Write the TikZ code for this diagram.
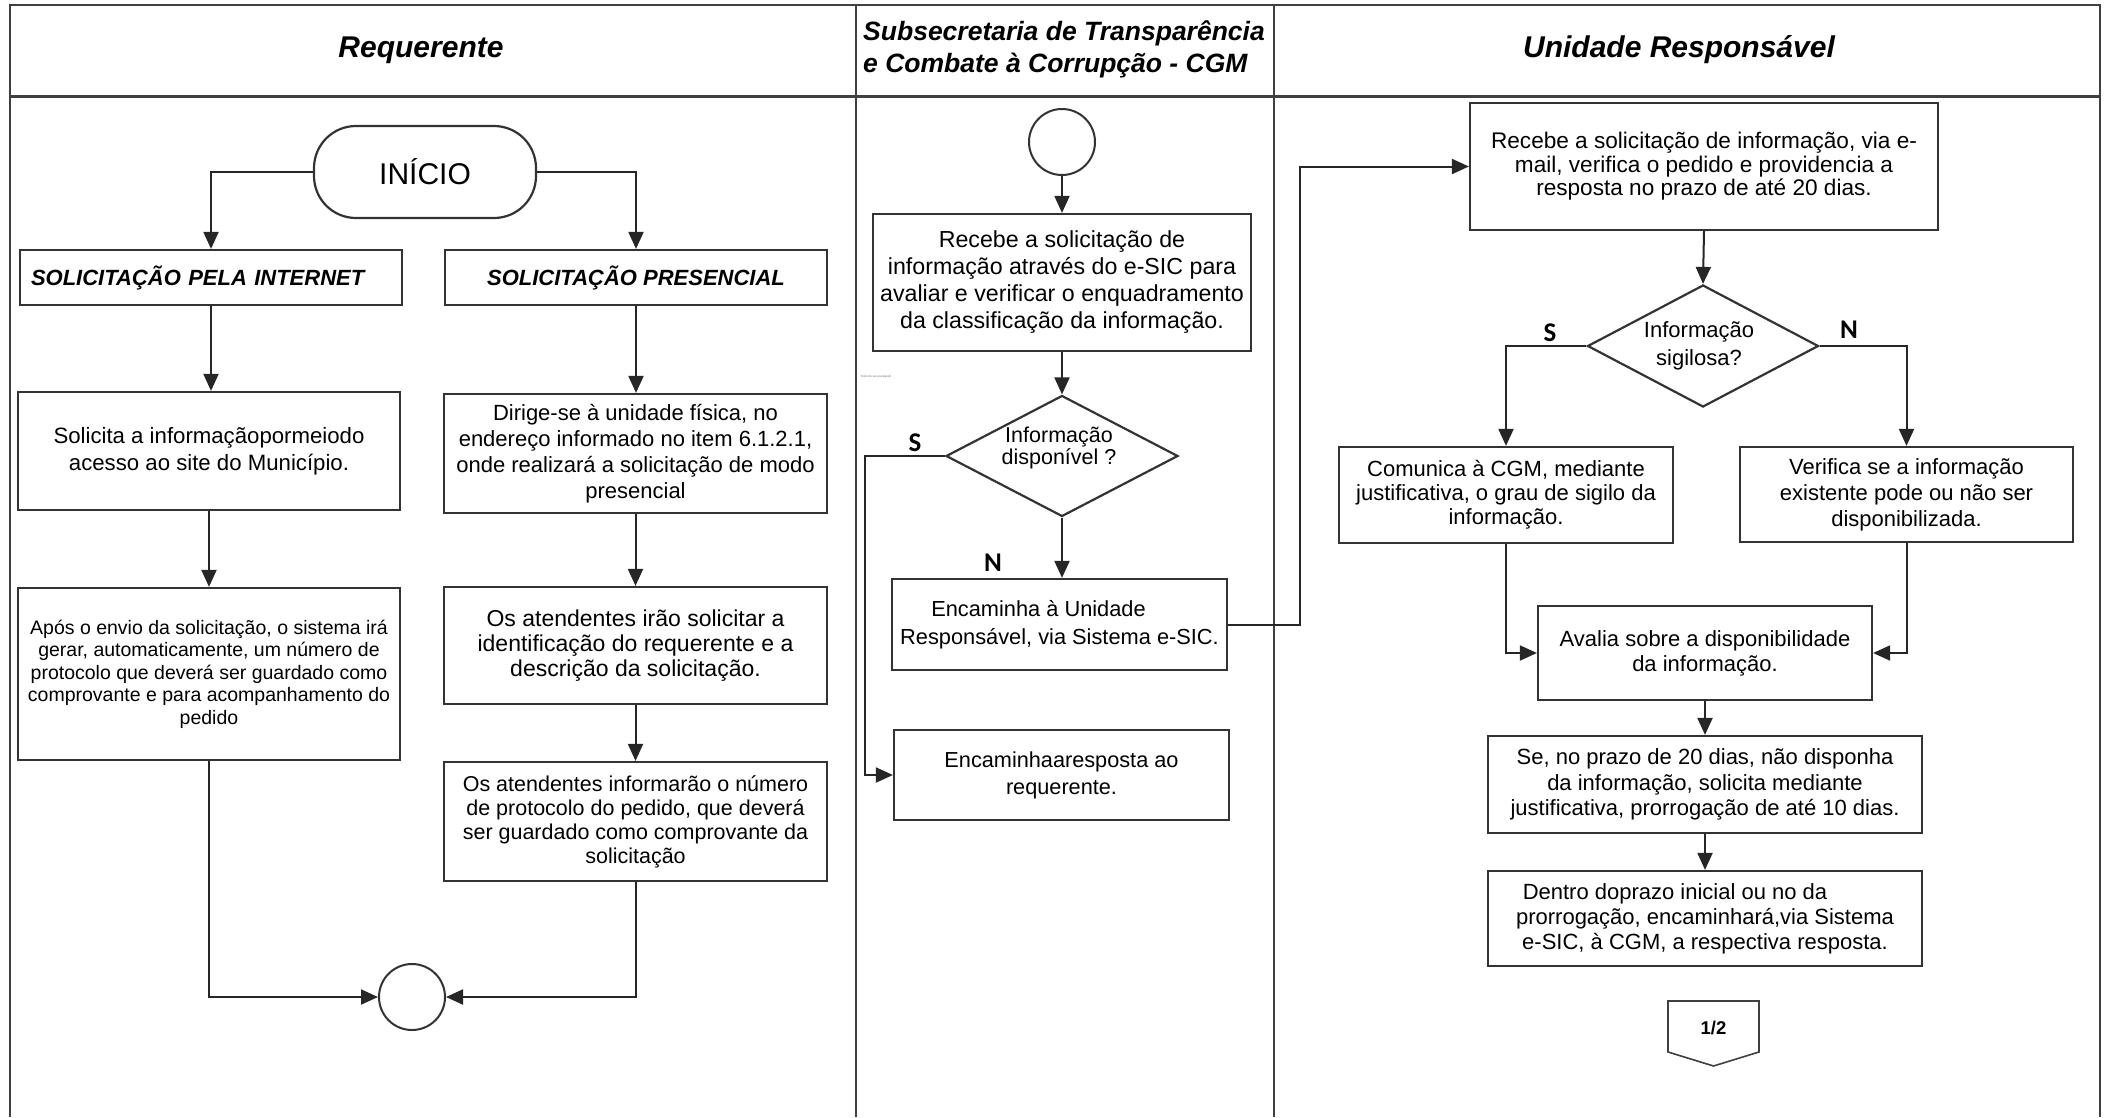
\documentclass[tikz,border=0pt]{standalone}
\usepackage{fontspec}
\setmainfont{Liberation Sans}
\newfontfamily\calibrifont{Carlito}
\usetikzlibrary{arrows.meta,shapes.geometric}
\newcommand\myfs[2]{\fontsize{#1}{#2}\selectfont}
\begin{document}
\begin{tikzpicture}[x=1pt,y=-1pt,
  box/.style={draw=black!80, line width=2.2pt, rectangle, inner sep=0pt, align=center, fill=white},
  dia/.style={draw=black!80, line width=2.2pt, diamond, inner sep=0pt, fill=white},
  circ/.style={draw=black!80, line width=2pt, circle, inner sep=0pt, minimum size=66pt},
  arr/.style={draw=black!85, line width=2pt, -{Triangle[width=15pt,length=17pt]}},
  ln/.style={draw=black!85, line width=2pt},
  frame/.style={draw=black!75, line width=2pt},
  lbl/.style={font=\calibrifont\bfseries\myfs{27}{27}, inner sep=0pt},
  hdr/.style={font=\bfseries\itshape\myfs{30}{32}, inner sep=0pt}]
\useasboundingbox (0,0) rectangle (2105,1117);

% frame and lanes
\draw[frame] (10,1117) -- (10,5) -- (2100,5) -- (2100,1117);
\draw[frame, line width=3pt] (10,96) -- (2100,96);
\draw[frame] (856,5) -- (856,1117);
\draw[frame] (1274,5) -- (1274,1117);

% headers
\node[hdr] (h1) at (421,50) {Requerente};
\node[hdr, font=\bfseries\itshape\myfs{26.5}{32}, anchor=west, align=left] (h2) at (863,49) {Subsecretaria de Transparência\\e Combate à Corrupção - CGM};
\node[hdr] (h3) at (1679,50) {Unidade Responsável};

% ---------- lane 1: Requerente ----------
\node[box, rounded corners=42pt, minimum width=222pt, minimum height=92pt, font=\myfs{30}{32}] (inicio) at (425,172) {INÍCIO};
\node[box, minimum width=382pt, minimum height=55pt, text width=360pt, inner xsep=11pt, align=left, font=\bfseries\itshape\myfs{22}{26}] (pint) at (211,277.5) {SOLICITAÇÃO PELA INTERNET};
\node[box, minimum width=382pt, minimum height=55pt, font=\bfseries\itshape\myfs{22}{26}] (ppres) at (636,277.5) {SOLICITAÇÃO PRESENCIAL};
\node[box, minimum width=382pt, minimum height=118pt, font=\myfs{22.2}{27}] (solic) at (209,451) {Solicita a informaçãopormeiodo\\acesso ao site do Município.};
\node[box, minimum width=383pt, minimum height=119pt, font=\myfs{22}{26}] (dirige) at (635.5,453.5) {Dirige-se à unidade física, no\\endereço informado no item 6.1.2.1,\\onde realizará a solicitação de modo\\presencial};
\node[box, minimum width=382pt, minimum height=172pt, font=\myfs{19.5}{22.5}] (apos) at (209,674) {Após o envio da solicitação, o sistema irá\\gerar, automaticamente, um número de\\protocolo que deverá ser guardado como\\comprovante e para acompanhamento do\\pedido};
\node[box, minimum width=383pt, minimum height=117pt, font=\myfs{23}{25}] (irao) at (635.5,645.5) {Os atendentes irão solicitar a\\identificação do requerente e a\\descrição da solicitação.};
\node[box, minimum width=383pt, minimum height=119pt, font=\myfs{21.5}{24}] (inform) at (635.5,821.5) {Os atendentes informarão o número\\de protocolo do pedido, que deverá\\ser guardado como comprovante da\\solicitação};
\node[circ] (fim1) at (412,997) {};

\draw[arr] (inicio.west) -| (pint.north);
\draw[arr] (inicio.east) -| (ppres.north);
\draw[arr] (pint.south) -- (pint.south |- solic.north);
\draw[arr] (ppres.south) -- (ppres.south |- dirige.north);
\draw[arr] (solic.south) -- (solic.south |- apos.north);
\draw[arr] (dirige.south) -- (dirige.south |- irao.north);
\draw[arr] (irao.south) -- (irao.south |- inform.north);
\draw[arr] (apos.south) |- (fim1.west);
\draw[arr] (inform.south) |- (fim1.east);

% ---------- lane 2: CGM ----------
\node[font=\myfs{3}{3}, text=black!55, inner sep=0pt] (tiny) at (876,377) {Texto do seu parágrafo};
\node[circ] (ini2) at (1062,142) {};
\node[box, minimum width=378pt, minimum height=137pt, font=\myfs{23.2}{27}] (rec2) at (1062,282.5) {Recebe a solicitação de\\informação através do e-SIC para\\avaliar e verificar o enquadramento\\da classificação da informação.};
\node[dia, minimum width=232pt, minimum height=121pt] (d1) at (1062,456) {};
\node[font=\myfs{21.5}{18}, align=center, inner sep=0pt] (d1t) at (1059,448) {Informação\\disponível ?};
\node[box, minimum width=335pt, minimum height=91pt, font=\myfs{21.8}{27.5}] (enc) at (1059.5,624.5) {Encaminha à Unidade\hspace*{42pt}\\Responsável, via Sistema e-SIC.};
\node[box, minimum width=335pt, minimum height=90pt, font=\myfs{21.7}{27}] (encres) at (1061.5,775) {Encaminhaaresposta ao\\requerente.};
\node[lbl] (s1) at (915,443) {S};
\node[lbl] (n1) at (993,563) {N};

\draw[arr] (ini2.south) -- (rec2.north);
\draw[arr] (rec2.south) -- (d1.north);
\draw[arr] (d1.south) -- (d1.south |- enc.north);
\draw[arr] (d1.west) -- ++(-80,0) |- (encres.west);

% ---------- lane 3: Unidade Responsavel ----------
\node[box, minimum width=468pt, minimum height=127pt, font=\myfs{22.6}{23.5}] (rec3) at (1704,166.5) {Recebe a solicitação de informação, via e-\\mail, verifica o pedido e providencia a\\resposta no prazo de até 20 dias.};
\node[dia, minimum width=231pt, minimum height=122pt] (d2) at (1703,346) {};
\node[font=\myfs{22}{28}, align=center, inner sep=0pt] (d2t) at (1699,346) {Informação\\sigilosa?};
\node[box, minimum width=334pt, minimum height=96pt, font=\myfs{22}{24}] (comun) at (1506,495) {Comunica à CGM, mediante\\justificativa, o grau de sigilo da\\informação.};
\node[box, minimum width=333pt, minimum height=95pt, font=\myfs{22}{26}] (verif) at (1906.5,494.5) {Verifica se a informação\\existente pode ou não ser\\disponibilizada.};
\node[box, minimum width=334pt, minimum height=94pt, font=\myfs{22}{25}] (aval) at (1705,653) {Avalia sobre a disponibilidade\\da informação.};
\node[box, minimum width=434pt, minimum height=97pt, font=\myfs{22}{25.5}] (se) at (1705,784.5) {Se, no prazo de 20 dias, não disponha\\da informação, solicita mediante\\justificativa, prorrogação de até 10 dias.};
\node[box, minimum width=434pt, minimum height=95pt, font=\myfs{22}{25}] (dentro) at (1705,918.5) {Dentro doprazo inicial ou no da\hspace*{60pt}\\prorrogação, encaminhará,via Sistema\\e-SIC, à CGM, a respectiva resposta.};
\node[lbl] (s2) at (1550,333) {S};
\node[lbl] (n2) at (1849,330) {N};
\node[font=\bfseries\myfs{18.5}{20}, inner sep=0pt] (pg) at (1713.5,1028) {1/2};
\draw[draw=black!75, line width=1.6pt] (1668,1001) -- (1759,1001) -- (1759,1052) -- (1713.5,1066) -- (1668,1052) -- cycle;

\draw[arr] (enc.east) -- ++(72,0) |- (rec3.west);
\draw[arr] (rec3.south) -- (d2.north);
\draw[arr] (d2.west) -| (comun.north);
\draw[arr] (d2.east) -| (verif.north);
\draw[arr] (comun.south) |- (aval.west);
\draw[arr] (verif.south) |- (aval.east);
\draw[arr] (aval.south) -- (se.north);
\draw[arr] (se.south) -- (dentro.north);
\end{tikzpicture}
\end{document}
